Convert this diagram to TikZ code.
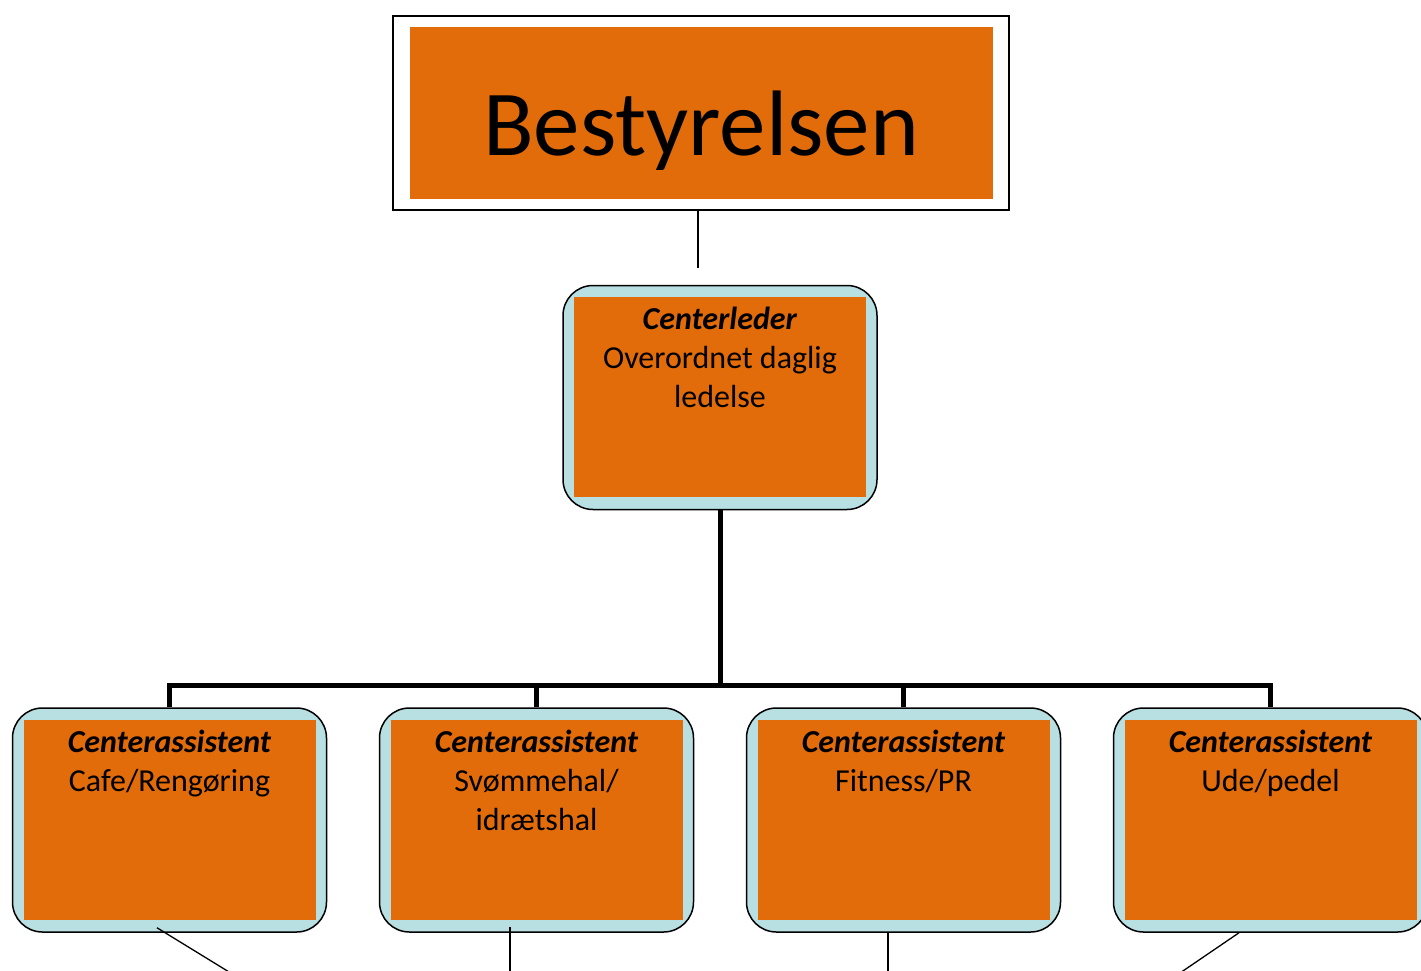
\documentclass[tikz,border=0pt]{standalone}
\usepackage{fontspec}
\setmainfont{Carlito}
\usetikzlibrary{positioning}
\definecolor{boxorange}{RGB}{226,107,10}
\definecolor{boxblue}{RGB}{184,223,226}

\begin{document}
\begin{tikzpicture}[
    x=1pt, y=-1pt,
    topbox/.style={rectangle, draw, line width=1.5pt, fill=white, minimum width=616pt, minimum height=194pt, inner sep=0pt},
    topfill/.style={rectangle, fill=boxorange, minimum width=583pt, minimum height=172pt, inner sep=0pt},
    rolebox/.style={rectangle, rounded corners=30pt, draw, line width=1.5pt, fill=boxblue, minimum width=314pt, minimum height=224pt, inner sep=0pt},
    rolefill/.style={rectangle, fill=boxorange, minimum width=292pt, minimum height=200pt, inner sep=0pt},
    roletext/.style={anchor=north, align=center, inner sep=0pt, font=\fontsize{32}{39}\selectfont},
    thinline/.style={line width=1.3pt},
    busline/.style={line width=5pt, line join=miter}
]
    \clip (0,0) rectangle (1421,970);

    % board
    \node[topbox] (board) at (701,113) {};
    \node[topfill] (boardin) at (701.5,113) {};
    \node[anchor=base, inner sep=0pt, font=\fontsize{93}{100}\selectfont] (boardtxt) at (701,155) {Bestyrelsen};
    \coordinate (boardend) at (698,268);
    \draw[thinline] (board.south -| boardend) -- (boardend);

    % leader
    \node[rolebox] (cl) at (720,397.5) {};
    \node[rolefill] (clin) at (720,397) {};
    \node[roletext] (cltxt) at (720,301.5) {\strut\textbf{\textit{Centerleder}}\\Overordnet daglig\\ledelse};

    % assistants
    \node[rolebox] (ca1) at (169.5,820) {};
    \node[rolebox, right=51.5pt of ca1] (ca2) {};
    \node[rolebox, right=51.5pt of ca2] (ca3) {};
    \node[rolebox, right=51.5pt of ca3] (ca4) {};
    \node[rolefill] (ca1in) at (ca1) {};
    \node[rolefill] (ca2in) at (ca2) {};
    \node[rolefill] (ca3in) at (ca3) {};
    \node[rolefill] (ca4in) at (ca4) {};
    \node[roletext] (ca1txt) at (ca1 |- 0,725) {\strut\textbf{\textit{Centerassistent}}\\Cafe/Rengøring};
    \node[roletext] (ca2txt) at (ca2 |- 0,725) {\strut\textbf{\textit{Centerassistent}}\\Svømmehal/\\idrætshal};
    \node[roletext] (ca3txt) at (ca3 |- 0,725) {\strut\textbf{\textit{Centerassistent}}\\Fitness/PR};
    \node[roletext] (ca4txt) at (ca4 |- 0,725) {\strut\textbf{\textit{Centerassistent}}\\Ude/pedel};

    % bus
    \coordinate (bus) at (720,685);
    \draw[busline] (cl.south) -- (bus);
    \draw[busline] (ca1.north) |- (bus) -| (ca4.north);
    \draw[busline] (ca2.north) -- (ca2.north |- bus);
    \draw[busline] (ca3.north) -- (ca3.north |- bus);

    % lines out of the page
    \coordinate (down1) at (234,975);
    \coordinate (down2) at (510,975);
    \coordinate (down3) at (888,975);
    \coordinate (down4) at (1177,975);
    \draw[thinline] ([xshift=-12.5pt, yshift=5pt]ca1.south) -- (down1);
    \draw[thinline] (ca2.south -| down2) ++(0,-6) -- (down2);
    \draw[thinline] (ca3.south -| down3) -- (down3);
    \draw[thinline] ([xshift=-31.5pt]ca4.south) -- (down4);
\end{tikzpicture}
\end{document}
